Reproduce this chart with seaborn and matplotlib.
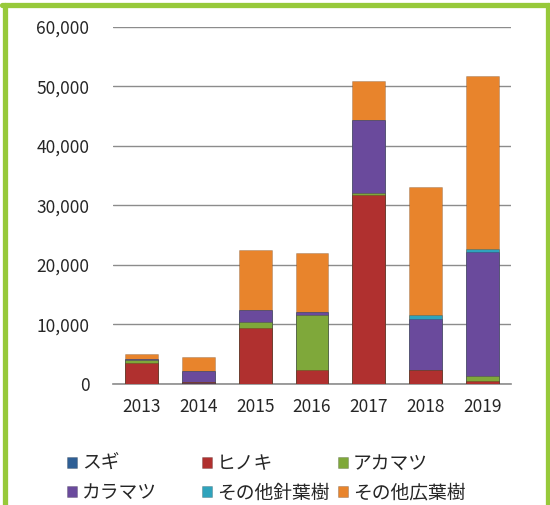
import numpy as np
import pandas as pd
import matplotlib
matplotlib.use("Agg")
import matplotlib.pyplot as plt
from matplotlib.patches import Patch
from matplotlib.lines import Line2D
import seaborn as sns

years = ["2013", "2014", "2015", "2016", "2017", "2018", "2019"]
species = ["スギ", "ヒノキ", "アカマツ", "カラマツ", "その他針葉樹", "その他広葉樹"]
sugi      = [50, 100, 50, 50, 50, 50, 50]
hinoki    = [3500, 200, 9400, 2300, 31700, 2300, 500]
akamatsu  = [400, 0, 1000, 9300, 300, 0, 800]
karamatsu = [300, 1800, 2000, 500, 12200, 8600, 20800]
sonota_shin = [0, 0, 0, 0, 0, 600, 600]
sonota_kou  = [800, 2400, 10000, 9800, 6600, 21500, 29000]
colors = ["#2F5F95", "#B0302F", "#7FA83A", "#6A4A9C", "#2FA3BC", "#E8842C"]

series = [sugi, hinoki, akamatsu, karamatsu, sonota_shin, sonota_kou]
df = pd.DataFrame({"year": years})
cum = np.zeros(len(years))
for name, vals in zip(species, series):
    cum = cum + np.array(vals, dtype=float)
    df[name] = cum

sns.set_style("white")
plt.rcParams["font.family"] = ["Noto Sans CJK JP", "DejaVu Sans"]

fig = plt.figure(figsize=(5.5, 5.05), dpi=100)
ax = fig.add_axes([113/550, 1-384/505, 398/550, (384-26.7)/505])

for name, col in reversed(list(zip(species, colors))):
    sns.barplot(data=df, x="year", y=name, order=years, color=col,
                width=0.58, saturation=1, ax=ax, zorder=3,
                edgecolor="#00000030", linewidth=0.6)

ax.set_ylim(0, 60000)
ax.set_yticks(np.arange(0, 60001, 10000))
ax.set_yticklabels([f"{v:,}" for v in range(0, 60001, 10000)], fontsize=12.5)
ax.tick_params(axis="x", labelsize=12.5, length=0, pad=10)
ax.tick_params(axis="y", length=0, pad=17)
ax.yaxis.grid(True, color="#8C8C8C", linewidth=1.0, zorder=0)
ax.set_axisbelow(True)
for s in ["left", "right", "top"]:
    ax.spines[s].set_visible(False)
ax.spines["bottom"].set_color("#8C8C8C")
ax.spines["bottom"].set_linewidth(1.2)
ax.set_xlabel("")
ax.set_ylabel("")

handles = [Patch(facecolor=c, edgecolor="#00000040", linewidth=0.5) for c in colors]
col_x = [50, 185, 321]
for j in range(3):
    idx = [j, j + 3]
    fig.legend([handles[i] for i in idx], [species[i] for i in idx],
               loc="upper left", bbox_to_anchor=(col_x[j]/550, 1-436/505),
               ncol=1, frameon=False, fontsize=13.5, handlelength=0.55, handleheight=0.55,
               handletextpad=0.25, labelspacing=0.45)

green = "#97C93A"
fig.add_artist(Line2D([4.5/550, 4.5/550], [0, 1-5/505], transform=fig.transFigure, color=green, lw=3.8))
fig.add_artist(Line2D([2/550, 1], [1-5/505, 1-5/505], transform=fig.transFigure, color=green, lw=3.8))
fig.add_artist(Line2D([547.5/550, 547.5/550], [0, 1-5/505], transform=fig.transFigure, color=green, lw=3.8))

fig.savefig("out.png", dpi=100)
